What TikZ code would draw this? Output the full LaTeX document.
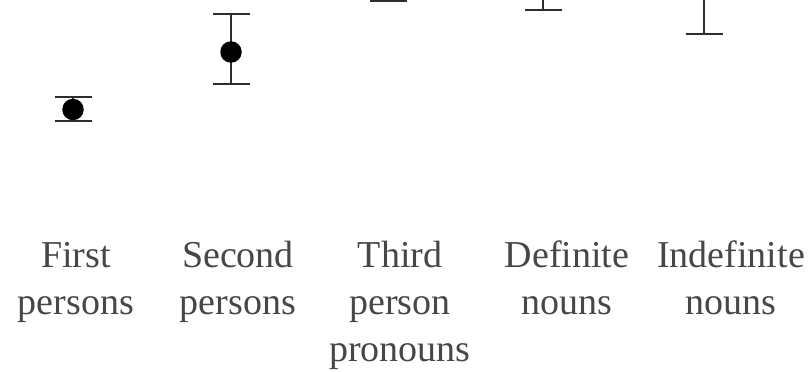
\documentclass[tikz,border=0pt]{standalone}
\usepackage{fontspec}
\setmainfont{Liberation Serif}
\definecolor{ink}{HTML}{2E2E2E}
\definecolor{labelgray}{HTML}{474747}
\begin{document}
\begin{tikzpicture}[x=1pt, y=-1pt, bar/.style = {draw=ink, line width=1.3pt}, whisker/.style = {draw=ink, line width=2pt}, mean/.style = {circle, fill=black, inner sep=0pt, minimum size=21.5pt}, cat/.style = {text=labelgray, font=\fontsize{38}{47}\selectfont, align=center, anchor=base, inner sep=0pt}]
            \useasboundingbox (0,0) rectangle (809,372);
            % error bars
            \coordinate (t1) at (73,96.5);
            \coordinate (b1) at (73,120.5);
            \coordinate (t2) at (231,14);
            \coordinate (b2) at (231,84);
            \coordinate (t3) at (388,-30);
            \coordinate (b3) at (388,0.6);
            \coordinate (t4) at (543,-30);
            \coordinate (b4) at (543,9.5);
            \coordinate (t5) at (704,-30);
            \coordinate (b5) at (704,34);
            \draw[bar] (t1) -- (b1);
            \draw[bar] (t2) -- (b2);
            \draw[bar] (t3) -- (b3);
            \draw[bar] (t4) -- (b4);
            \draw[bar] (t5) -- (b5);
            \draw[whisker] ([xshift=-18.5pt]t1) -- ([xshift=18.5pt]t1);
            \draw[whisker] ([xshift=-18.5pt]b1) -- ([xshift=18.5pt]b1);
            \draw[whisker] ([xshift=-18.5pt]t2) -- ([xshift=18.5pt]t2);
            \draw[whisker] ([xshift=-18.5pt]b2) -- ([xshift=18.5pt]b2);
            \draw[whisker] ([xshift=-18.5pt]b3) -- ([xshift=18.5pt]b3);
            \draw[whisker] ([xshift=-18.5pt]b4) -- ([xshift=18.5pt]b4);
            \draw[whisker] ([xshift=-18.5pt]b5) -- ([xshift=18.5pt]b5);
            \node[mean] (m1) at (73,109.5) {};
            \node[mean] (m2) at (231,52) {};
            % categories (base = last line)
            \node[cat] (c1) at (76,314) {First\\persons};
            \node[cat] (c2) at (238,314) {Second\\persons};
            \node[cat] (c3) at (400,361) {Third\\person\\pronouns};
            \node[cat] (c4) at (567,314) {Definite\\nouns};
            \node[cat] (c5) at (731,314) {Indefinite\\nouns};
        \end{tikzpicture}
\end{document}
